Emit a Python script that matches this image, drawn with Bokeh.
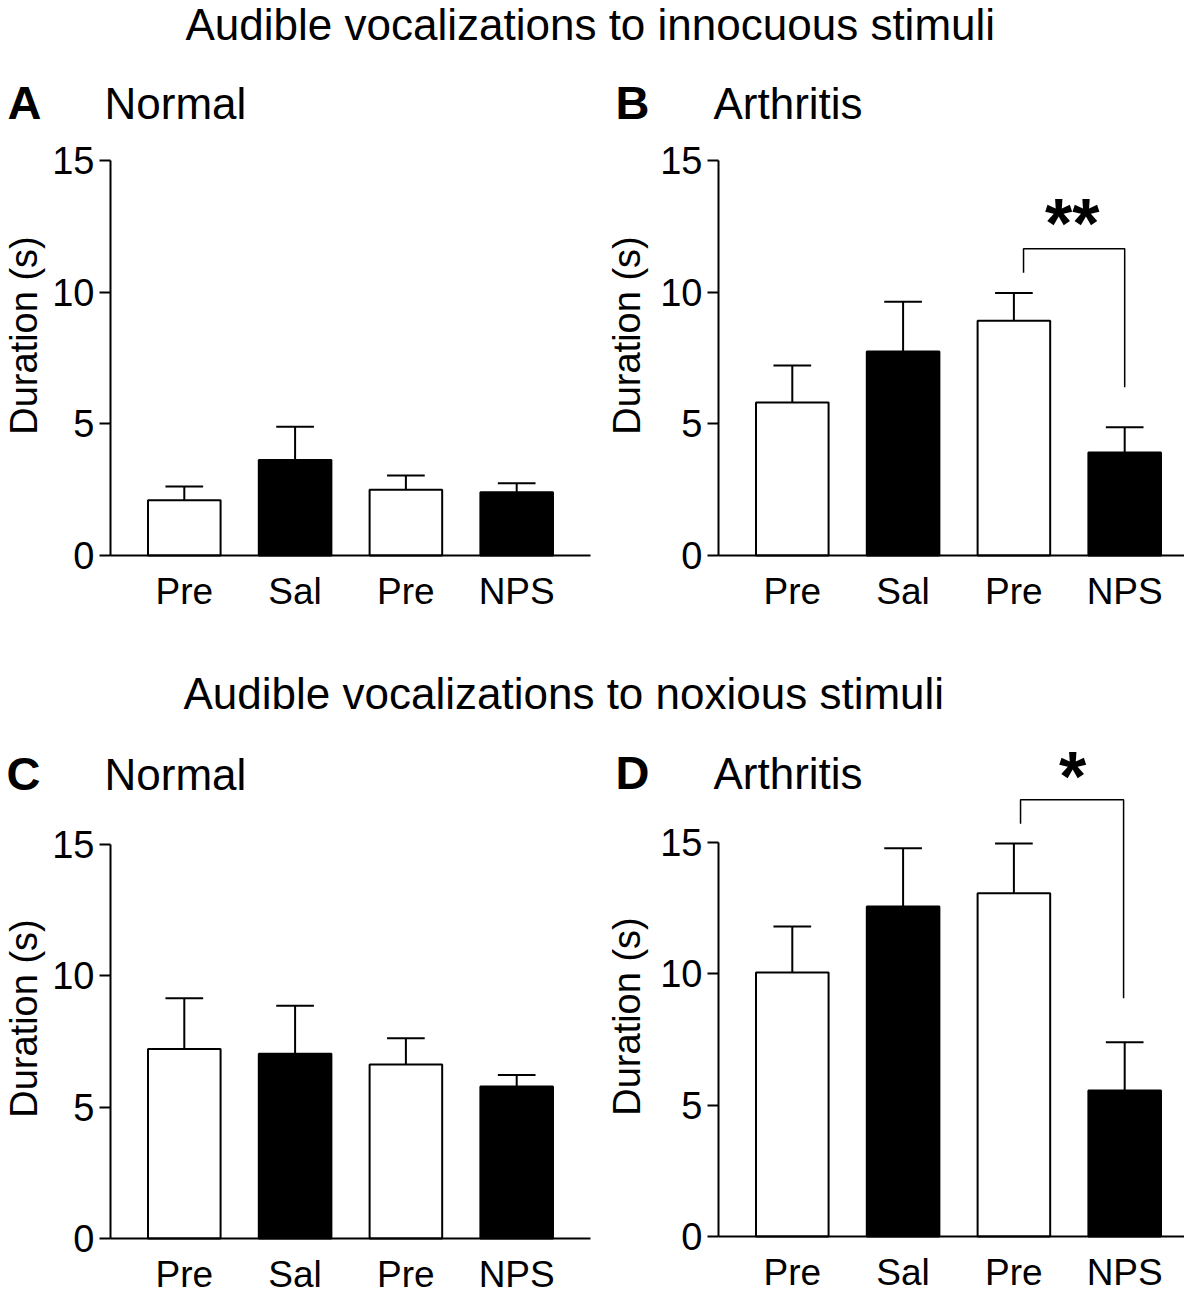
from bokeh.plotting import figure
from bokeh.layouts import column, row
from bokeh.models import Range1d, FixedTicker, Label, ColumnDataSource, LinearAxis
from bokeh.embed import file_html
from bokeh.resources import INLINE
from bokeh.core.properties import value
import math

FONT = "Liberation Sans"

# ---------------- data ----------------
categories = ["Pre", "Sal", "Pre", "NPS"]
bar_fills = ["white", "black", "white", "black"]
y_ticks = [0, 5, 10, 15]

title_top = "Audible vocalizations to innocuous stimuli"
title_bottom = "Audible vocalizations to noxious stimuli"

normal_innocuous_mean = [2.10, 3.63, 2.50, 2.40]
normal_innocuous_sem = [0.52, 1.26, 0.54, 0.34]
arthritis_innocuous_mean = [5.81, 7.75, 8.92, 3.91]
arthritis_innocuous_sem = [1.41, 1.89, 1.05, 0.96]
normal_noxious_mean = [7.21, 7.03, 6.62, 5.79]
normal_noxious_sem = [1.94, 1.83, 1.00, 0.43]
arthritis_noxious_mean = [10.05, 12.56, 13.07, 5.56]
arthritis_noxious_sem = [1.75, 2.22, 1.89, 1.83]

# significance brackets (Pre vs NPS in arthritis)
b_bracket_x = [2.087, 2.087, 3.0, 3.0]
b_bracket_y = [10.74, 11.65, 11.65, 6.39]
b_star_text = ["**"]
b_star_x = [2.526]
b_star_y = [12.68]

d_bracket_x = [2.06, 2.06, 2.99, 2.99]
d_bracket_y = [15.71, 16.63, 16.63, 9.07]
d_star_text = ["*"]
d_star_x = [2.53]
d_star_y = [17.59]

# ---------------- layout helpers ----------------
PXX = 110.8          # pixels per category step
X0 = -0.666          # data x where the y axis sits
X1 = 3.666           # data x where the x axis ends
STAR_SIZE = 70
BASE_SHIFT = 0.39    # measured drop of an "alphabetic" label, in em
NAME_SIZE = 44
LETTER_SIZE = 47


def title_fig(text, width, height, baseline_px, left_px):
    p = figure(width=width, height=height, x_range=Range1d(0, width),
               y_range=Range1d(height, 0), min_border=0, title=None,
               x_axis_location=None, y_axis_location=None,
               outline_line_color=None, toolbar_location=None,
               output_backend="svg")
    p.grid.visible = False
    p.add_layout(Label(x=left_px, y=baseline_px - BASE_SHIFT * 44, text=text,
                       text_font=FONT, text_font_size="44px",
                       text_color="black", text_baseline="alphabetic",
                       text_align="left"))
    return p


def panel(mean, sem, letter, name, width, height, axis_px, base_px, pxy,
          letter_px, name_px, label_base_px, ylab_px, ylab_cy_px,
          bracket=None, star=None):
    xs0 = X0 - axis_px / PXX

    def dx(px):
        return xs0 + px / PXX

    def dy(py):
        return (base_px - py) / pxy

    p = figure(width=width, height=height,
               x_range=Range1d(xs0, xs0 + width / PXX),
               y_range=Range1d(dy(height), dy(0)),
               min_border=0, title=None,
               x_axis_location=None, y_axis_location=None,
               toolbar_location=None, output_backend="svg",
               outline_line_color=None)
    p.grid.visible = False
    p.background_fill_color = "white"
    p.border_fill_color = "white"

    xs = list(range(len(categories)))
    tops = [m + s for m, s in zip(mean, sem)]
    src = ColumnDataSource(dict(x=xs, top=mean, fill=bar_fills, etop=tops,
                                cl=[x - 0.17 for x in xs],
                                cr=[x + 0.17 for x in xs]))
    p.vbar(x="x", top="top", width=0.655, bottom=0, fill_color="fill",
           line_color="black", line_width=2, source=src)
    p.segment(x0="x", y0="top", x1="x", y1="etop", line_color="black",
              line_width=2, source=src)
    p.segment(x0="cl", y0="etop", x1="cr", y1="etop", line_color="black",
              line_width=2, source=src)

    if bracket is not None:
        p.line(bracket[0], bracket[1], line_color="black", line_width=1.5)
    if star is not None:
        txt, sx, sy = star
        # asterisk ink centre sits slightly above the anchor (measured)
        anchor = [y - 0.03 * STAR_SIZE / pxy for y in sy]
        p.text(x=sx, y=anchor, text=txt, text_font=value(FONT),
               text_font_size=f"{STAR_SIZE}px", text_font_style="bold",
               text_align="center", text_baseline="middle",
               text_color="black")

    # axes
    xa = LinearAxis(fixed_location=0, bounds=(X0, X1))
    xa.ticker = FixedTicker(ticks=xs)
    xa.major_label_overrides = {i: c for i, c in enumerate(categories)}
    xa.major_tick_line_color = None
    xa.minor_tick_line_color = None
    xa.axis_line_width = 2
    xa.axis_line_color = "black"
    xa.major_label_standoff = 9
    xa.major_label_text_font = FONT
    xa.major_label_text_font_size = "37px"
    xa.major_label_text_color = "black"
    p.add_layout(xa, "below")

    ya = LinearAxis(fixed_location=X0, bounds=(0, 15))
    ya.ticker = FixedTicker(ticks=y_ticks)
    ya.axis_line_width = 2
    ya.axis_line_color = "black"
    ya.major_tick_out = 11
    ya.major_tick_in = 0
    ya.major_tick_line_width = 2
    ya.major_tick_line_color = "black"
    ya.minor_tick_line_color = None
    ya.major_label_standoff = 5
    ya.major_label_text_font = FONT
    ya.major_label_text_font_size = "38px"
    ya.major_label_text_color = "black"
    p.add_layout(ya, "left")

    p.add_layout(Label(x=dx(ylab_px), y=dy(ylab_cy_px), text="Duration (s)",
                       angle=math.pi / 2, text_font=FONT,
                       text_font_size="38px", text_align="center",
                       text_baseline="middle", text_color="black"))
    p.add_layout(Label(x=dx(letter_px),
                       y=dy(label_base_px - BASE_SHIFT * LETTER_SIZE),
                       text=letter, text_font=FONT,
                       text_font_size=f"{LETTER_SIZE}px",
                       text_font_style="bold", text_baseline="alphabetic",
                       text_color="black"))
    p.add_layout(Label(x=dx(name_px),
                       y=dy(label_base_px - BASE_SHIFT * NAME_SIZE),
                       text=name, text_font=FONT,
                       text_font_size=f"{NAME_SIZE}px",
                       text_baseline="alphabetic", text_color="black"))
    return p


# page rows: title 0-60, row1 60-655, title 655-735, row2 735-1296
t1 = title_fig(title_top, 1184, 60, 41, 185)
pa = panel(normal_innocuous_mean, normal_innocuous_sem, "A", "Normal",
           600, 595, 110, 495, 26.33, 7, 104, 60, 23, 275)
pb = panel(arthritis_innocuous_mean, arthritis_innocuous_sem, "B", "Arthritis",
           584, 595, 118, 495, 26.33, 15, 113, 60, 26, 275,
           bracket=(b_bracket_x, b_bracket_y),
           star=(b_star_text, b_star_x, b_star_y))
t2 = title_fig(title_bottom, 1184, 80, 55, 183)
pc = panel(normal_noxious_mean, normal_noxious_sem, "C", "Normal",
           600, 561, 110, 503, 26.27, 6, 104, 56, 23, 283)
pd = panel(arthritis_noxious_mean, arthritis_noxious_sem, "D", "Arthritis",
           584, 561, 118, 501, 26.27, 15, 113, 55, 26, 281,
           bracket=(d_bracket_x, d_bracket_y),
           star=(d_star_text, d_star_x, d_star_y))

layout = column(t1, row(pa, pb), t2, row(pc, pd))
open("out.html", "w").write(file_html(layout, INLINE))
